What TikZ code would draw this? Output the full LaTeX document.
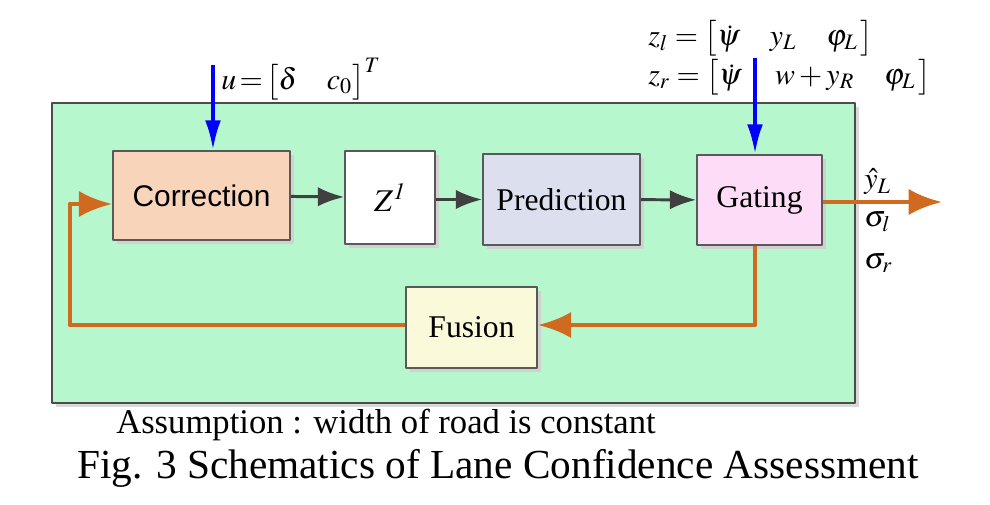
\documentclass[tikz,border=0pt]{standalone}
\usepackage{mathptmx}
\usepackage{fontspec}
\setmainfont{Liberation Serif}
\newfontfamily\corrfont{Liberation Sans}
\usetikzlibrary{arrows.meta, calc}
\definecolor{panelgreen}{HTML}{B7F7CE}
\definecolor{corrfill}{HTML}{F8D5BA}
\definecolor{predfill}{HTML}{DCDFEE}
\definecolor{gatefill}{HTML}{FCDCF6}
\definecolor{fusfill}{HTML}{FAFADA}
\definecolor{loop}{HTML}{D06A1E}
\tikzset{
  blockbox/.style={draw=black!65, line width=0.9pt, font=\fontsize{18}{20}\selectfont, inner sep=0pt},
  shadowbox/.style={fill=black!18, draw=none},
  mathlab/.style={anchor=west, inner sep=0pt, font=\fontsize{17}{19}\selectfont},
  flow/.style={-{Latex[length=15pt,width=11pt]}, draw=black!75, line width=1.7pt},
  loopline/.style={-{Latex[length=19pt,width=15pt]}, draw=loop, line width=2.8pt},
  inarrow/.style={-{Latex[length=17pt,width=9pt]}, draw=blue, line width=2.2pt},
}
\begin{document}
\begin{tikzpicture}[x=0.2mm, y=-0.2mm, >=Latex, line join=round]
\useasboundingbox (0,0) rectangle (990,504);
%========================
% panel
%========================
\fill[black!15] (56,107) rectangle (859,407);
\draw[fill=panelgreen, draw=black!70, line width=1.6pt] (52,103) rectangle (855,403);

% shadows of blocks
\fill[shadowbox] (117,155) rectangle (294,244);
\fill[shadowbox] (349,155) rectangle (439,248);
\fill[shadowbox] (487,158) rectangle (644,249);
\fill[shadowbox] (701,159) rectangle (826,249);
\fill[shadowbox] (410,291) rectangle (541,372);

% blocks
\node[blockbox, fill=corrfill, minimum width=3.54cm, minimum height=1.78cm,
  font=\corrfont\fontsize{17}{19}\selectfont] (corr) at (201.5,195.5) {Correction};
\node[blockbox, fill=white, minimum width=1.8cm, minimum height=1.86cm] (delay) at (390,197.5) {$Z^{\mathit{1}}$};
\node[blockbox, fill=predfill, minimum width=3.14cm, minimum height=1.82cm] (pred) at (561.5,199.5) {Prediction};
\node[blockbox, fill=gatefill, minimum width=2.5cm, minimum height=1.8cm] (gate) at (759.5,200) {Gating};
\node[blockbox, fill=fusfill, minimum width=2.62cm, minimum height=1.62cm] (fus) at (471.5,327.5) {Fusion};

% forward path
\draw[flow] (corr) -- (delay);
\draw[flow] (delay.east |- pred) -- (pred);
\draw[flow] (pred) -- (gate);

% inputs
\coordinate (uin) at (213,65);
\coordinate (zin) at (755,58);
\draw[inarrow] (uin) -- (uin |- corr.north);
\draw[inarrow] (zin) -- (zin |- gate.north);
\node[mathlab] (ulab) at (221,79) {$u\!=\!\bigl[\delta \quad c_0\bigr]^T$};
\node[mathlab] (zl) at (648,38) {$z_l = \bigl[\dot{\psi} \quad y_L \quad \varphi_L\,\bigr]$};
\node[mathlab] (zr) at (648,77) {$z_r = \bigl[\dot{\psi} \quad\, w + y_R \quad \varphi_L\,\bigr]$};

% output
\coordinate (out) at (942,202);
\draw[loopline] (gate.east |- out) -- (out);
\node[mathlab] (yhat) at (864,182) {$\hat{y}_L$};
\node[mathlab] (sigl) at (864,222) {$\sigma_{l}$};
\node[mathlab] (sigr) at (864,263) {$\sigma_{r}$};

% feedback loop
\coordinate (gdown) at (755,325);
\coordinate (lcorner) at (70,325);
\coordinate (tcorner) at (70,204);
\draw[loopline] (gdown |- gate.south) -- (gdown) -- (fus.east |- gdown);
\draw[loopline] (fus.west |- lcorner) -- (lcorner) -- (tcorner) -- (corr.west |- tcorner);

% notes
\node[font=\fontsize{19.7}{21}\selectfont] (note) at (386,425) {Assumption : width of road is constant};
\node[font=\fontsize{23.5}{26}\selectfont] (cap) at (498,468) {Fig. 3 Schematics of Lane Confidence Assessment};
\end{tikzpicture}
\end{document}
